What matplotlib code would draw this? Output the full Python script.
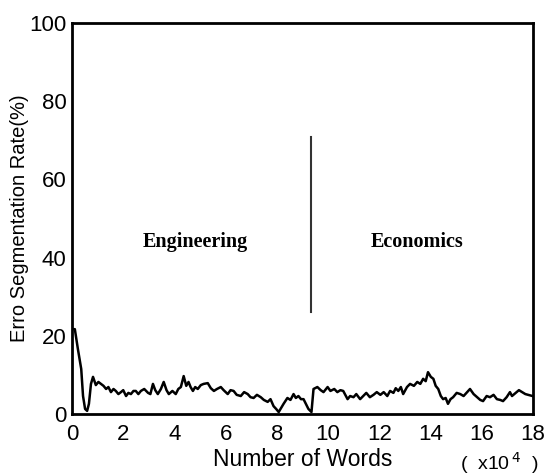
import matplotlib
matplotlib.use('Agg')
import matplotlib.pyplot as plt

# 读图得到的数据 (x: 词数 x10^4, y: 错误切分率 %)
words = [0.00, 0.11, 0.23, 0.36, 0.43, 0.51, 0.59, 0.66, 0.74, 0.82,
         0.93, 1.03, 1.13, 1.23, 1.33, 1.42, 1.52, 1.62, 1.71, 1.81, 1.91, 2.00, 2.11, 2.20, 2.30, 2.40, 2.49, 2.59, 2.69,
         2.82, 2.97, 3.06, 3.16, 3.25, 3.35, 3.47, 3.58, 3.69, 3.78, 3.92, 4.05, 4.15, 4.25, 4.36, 4.46, 4.55, 4.63, 4.72,
         4.81, 4.91, 5.03, 5.14, 5.30, 5.42, 5.54, 5.66, 5.81, 5.92, 6.08, 6.19, 6.31, 6.43, 6.59, 6.72, 6.86,
         6.97, 7.09, 7.22, 7.37, 7.49, 7.64, 7.75, 7.87, 7.97, 8.07, 8.26, 8.41, 8.53, 8.65, 8.74, 8.84, 8.94, 9.04,
         9.23, 9.35, 9.43, 9.58, 9.71, 9.82, 9.98, 10.09, 10.24, 10.36, 10.48, 10.59, 10.76,
         10.86, 10.99, 11.10, 11.25, 11.37, 11.49, 11.63, 11.77, 11.90, 12.04, 12.17, 12.31, 12.42, 12.55, 12.64, 12.74, 12.84, 12.93, 13.08, 13.20, 13.35, 13.48,
         13.60, 13.71, 13.81, 13.90, 14.01, 14.11, 14.20, 14.30, 14.40, 14.49, 14.59, 14.68, 14.78, 14.88, 15.02, 15.16, 15.29, 15.43, 15.54,
         15.68, 15.82, 15.94, 16.05, 16.19, 16.32, 16.46, 16.59, 16.72, 16.83, 16.97, 17.10, 17.18, 17.45, 17.70, 17.98]
err_rate = [21.7, 21.7, 16.6, 11.5, 4.6, 1.3, 0.8, 2.6, 7.7, 9.5,
            7.4, 8.2, 7.7, 7.2, 6.4, 6.9, 5.6, 6.4, 5.9, 5.1, 5.6, 6.1, 4.6, 5.4, 5.1, 5.9, 5.9, 5.1, 5.9,
            6.4, 5.4, 5.1, 7.7, 6.1, 5.1, 6.4, 8.2, 6.1, 5.1, 5.9, 5.1, 6.4, 6.9, 9.7, 7.2, 8.2, 6.9, 5.9,
            6.9, 6.4, 7.4, 7.7, 7.9, 6.6, 5.9, 6.4, 6.9, 6.1, 5.1, 6.1, 5.9, 4.9, 4.6, 5.6, 5.1,
            4.3, 4.1, 4.9, 4.3, 3.6, 3.1, 3.8, 2.0, 1.3, 0.5, 2.6, 4.1, 3.6, 5.1, 4.1, 4.6, 3.8, 3.8,
            1.3, 0.5, 6.4, 6.9, 6.1, 5.6, 6.9, 5.9, 6.4, 5.6, 6.1, 5.9, 3.8,
            4.6, 4.3, 5.1, 3.8, 4.6, 5.4, 4.3, 4.9, 5.6, 4.9, 5.6, 4.6, 5.9, 5.4, 6.6, 5.9, 6.9, 5.1, 6.9, 7.7, 7.2, 8.2,
            7.7, 9.0, 8.4, 10.7, 9.5, 9.0, 7.2, 6.4, 4.6, 3.8, 4.1, 2.6, 3.8, 4.3, 5.4, 5.1, 4.6, 5.6, 6.4,
            5.1, 4.3, 3.6, 3.3, 4.6, 4.3, 4.9, 3.8, 3.6, 3.3, 4.3, 5.6, 4.6, 6.1, 5.1, 4.6]

x_ticks = [0, 2, 4, 6, 8, 10, 12, 14, 16, 18]
y_ticks = [0, 20, 40, 60, 80, 100]
split_x = 9.33
split_top, split_bottom = 70.8, 26.1
domain_labels = ['Engineering', 'Economics']
domain_x = [4.80, 13.47]
domain_y = [44, 44]

plt.rcParams['font.family'] = ['Liberation Sans', 'DejaVu Sans']

fig = plt.figure(figsize=(5.46, 4.75), dpi=100)
ax = fig.add_axes([0.1319, 0.1284, 0.8443, 0.8232])

ax.plot(words, err_rate, color='black', linewidth=1.8)
ax.plot([split_x, split_x], [split_bottom, split_top], color='#333333', linewidth=1.5)

for label, lx, ly in zip(domain_labels, domain_x, domain_y):
    ax.text(lx, ly, label, ha='center', va='center', fontsize=14.5,
            fontweight='bold', family='Liberation Serif')

ax.set_xlim(0, 18)
ax.set_ylim(0, 100)
ax.set_xticks(x_ticks)
ax.set_yticks(y_ticks)
ax.tick_params(length=0, labelsize=16)
ax.tick_params(axis='x', pad=7)
ax.tick_params(axis='y', pad=4)
for spine in ax.spines.values():
    spine.set_linewidth(2)

ax.set_ylabel('Erro Segmentation Rate(%)', fontsize=14.5, labelpad=0)
ax.set_xlabel('Number of Words', fontsize=16.5, labelpad=2)
fig.text(0.914, 0.026, '(  x10$^{\\,4}$  )', ha='center', va='center', fontsize=14)

fig.savefig('out.png', dpi=100)
